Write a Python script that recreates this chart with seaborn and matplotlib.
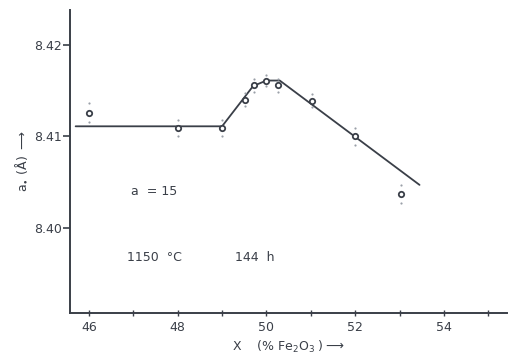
import matplotlib
matplotlib.use("Agg")
import matplotlib.pyplot as plt
import seaborn as sns
import pandas as pd

# measured points
x_pts = [46.0, 48.0, 49.0, 49.52, 49.72, 50.0, 50.26, 51.03, 52.0, 53.03]
a_pts = [8.4126, 8.4109, 8.4109, 8.4140, 8.4156, 8.4161, 8.4156, 8.4139, 8.4100, 8.4037]
a_err = [0.0010, 0.0009, 0.0009, 0.0007, 0.0007, 0.0006, 0.0007, 0.0007, 0.0009, 0.0010]

# fitted curve vertices
x_line = [45.7, 49.0, 49.7, 50.0, 50.3, 53.45]
a_line = [8.4111, 8.4111, 8.4155, 8.4161, 8.4161, 8.4047]

x_ticks = [46, 48, 50, 52, 54]
y_ticks = [8.40, 8.41, 8.42]

sns.set_style("white")
plt.rcParams['font.family'] = ['DejaVu Sans']

fig = plt.figure(figsize=(5.10, 3.59), dpi=100)
ax = fig.add_axes([0.137, 0.128, 0.857, 0.844])

ink = "#3a3f48"
df_line = pd.DataFrame({"x": x_line, "a": a_line})
df_pts = pd.DataFrame({"x": x_pts, "a": a_pts})

sns.lineplot(data=df_line, x="x", y="a", sort=False, estimator=None,
             color=ink, linewidth=1.3, ax=ax)

# error marks (small dots at ends)
ends_x = x_pts + x_pts
ends_y = [a + e for a, e in zip(a_pts, a_err)] + [a - e for a, e in zip(a_pts, a_err)]
ax.scatter(ends_x, ends_y, s=2.5, color="#9aa0a8", zorder=3, linewidths=0)

sns.scatterplot(data=df_pts, x="x", y="a", marker="o", s=15,
                facecolor="white", edgecolor=ink, linewidth=1.3, zorder=4, ax=ax)

ax.set_xlim(45.57, 55.42)
ax.set_ylim(8.3907, 8.4238)
ax.set_xticks(x_ticks)
ax.set_xticks([47, 49, 51, 53, 55], minor=True)
ax.set_yticks(y_ticks)
ax.set_yticklabels(["8.40", "8.41", "8.42"])
ax.set_xticklabels([str(t) for t in x_ticks])

for s in ["top", "right"]:
    ax.spines[s].set_visible(False)
for s in ["left", "bottom"]:
    ax.spines[s].set_color(ink)
    ax.spines[s].set_linewidth(1.4)

ax.tick_params(axis="y", which="major", direction="out", length=5, width=1.2,
               color=ink, labelsize=9, labelcolor=ink, pad=1, left=True)
ax.tick_params(axis="x", which="both", direction="inout", length=5, width=1.0,
               color=ink, labelsize=9, labelcolor=ink, pad=3, bottom=True)

ax.set_xlabel(r"X    (% Fe$_2$O$_3$ )$\longrightarrow$", fontsize=9, color=ink, labelpad=4)
ax.set_ylabel(r"a$_{\bullet}$ (Å) $\longrightarrow$", fontsize=9, color=ink, labelpad=3)

ax.text(46.95, 8.4040, "a  = 15", fontsize=9, color=ink, va="center")
ax.text(46.85, 8.3968, "1150  °C", fontsize=9, color=ink, va="center")
ax.text(49.3, 8.3968, "144  h", fontsize=9, color=ink, va="center")

fig.savefig("out.png", dpi=100, facecolor="white")
